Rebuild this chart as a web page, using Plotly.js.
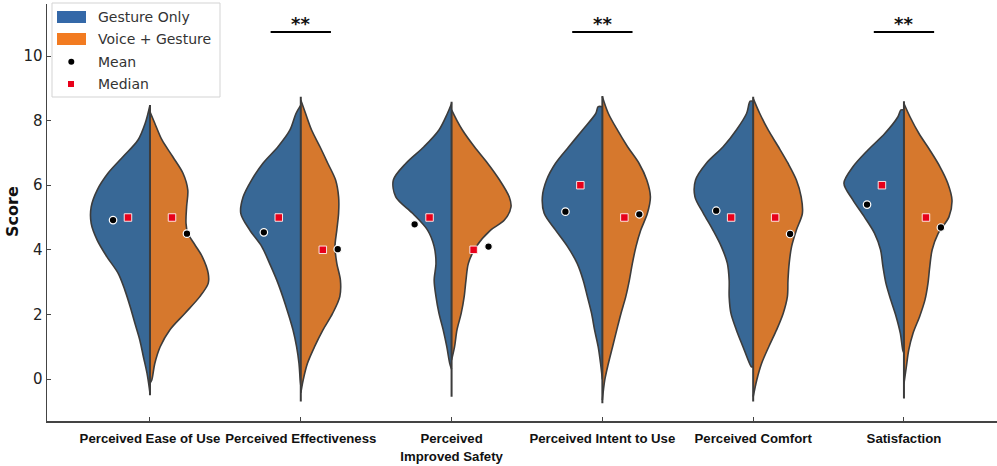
<!DOCTYPE html>
<html><head><meta charset="utf-8">
<script src="https://cdn.plot.ly/plotly-3.0.1.min.js"></script>
<style>html,body{margin:0;padding:0;background:#fff}#chart{width:997px;height:466px}</style>
</head><body><div id="chart"></div>
<script>
// ---- data ----
const categories = ["Perceived Ease of Use","Perceived Effectiveness","Perceived<br>Improved Safety","Perceived Intent to Use","Perceived Comfort","Satisfaction"];
const groups = ["Gesture Only","Voice + Gesture"];

// density profiles (score level, relative half-width) for each half-violin
const gestureLevels = [
  [8.48,7.92,7.4,6.88,6.37,5.85,5.33,4.82,4.3,3.79,3.27,2.76,2.24,1.72,1.21,0.69,0.18,-0.3,-0.45],
  [8.48,8.22,7.71,7.19,6.68,6.16,5.64,5.13,4.61,4.1,3.58,3.06,2.55,2.03,1.52,1.0,0.48,-0.03,-0.2],
  [8.53,8.22,7.71,7.19,6.68,6.16,5.64,5.13,4.61,4.1,3.58,3.06,2.55,2.03,1.52,1.0,0.48,0.3],
  [8.43,8.22,7.71,7.19,6.68,6.16,5.64,5.13,4.61,4.1,3.58,3.06,2.55,2.03,1.52,1.0,0.48,-0.01],
  [8.6,8.22,7.71,7.19,6.68,6.16,5.64,5.13,4.61,4.1,3.58,3.06,2.55,2.03,1.52,1.0,0.48,0.38],
  [8.33,8.12,7.6,7.09,6.57,6.06,5.54,5.02,4.51,4.0,3.48,2.96,2.45,1.93,1.41,0.9,0.8]
];
const gestureDensity = [
  [0,0.08,0.2,0.45,0.7,0.88,0.98,0.98,0.88,0.72,0.53,0.42,0.33,0.25,0.17,0.11,0.05,0.01,0],
  [0,0.08,0.18,0.38,0.63,0.82,0.96,1.0,0.85,0.65,0.52,0.4,0.3,0.21,0.13,0.07,0.03,0.01,0],
  [0,0.07,0.21,0.46,0.76,0.97,0.93,0.65,0.4,0.29,0.26,0.29,0.26,0.21,0.14,0.08,0.03,0],
  [0.07,0.11,0.33,0.56,0.78,0.93,1.0,0.97,0.78,0.58,0.42,0.32,0.25,0.18,0.13,0.07,0.03,0],
  [0.05,0.11,0.28,0.5,0.78,0.96,0.97,0.83,0.67,0.53,0.43,0.4,0.4,0.37,0.28,0.17,0.06,0.03],
  [0.05,0.1,0.32,0.6,0.85,1.0,0.85,0.66,0.49,0.39,0.35,0.3,0.22,0.13,0.06,0.02,0]
];
const voiceLevels = [
  [8.27,7.92,7.4,6.88,6.37,5.85,5.33,4.82,4.51,4.15,3.79,3.27,2.96,2.55,2.03,1.52,1.0,0.48,-0.03,-0.13],
  [8.64,8.22,7.71,7.19,6.68,6.16,5.64,5.13,4.61,4.1,3.58,3.06,2.55,2.03,1.52,1.0,0.48,-0.03,-0.43],
  [8.33,8.0,7.71,7.19,6.68,6.16,5.64,5.33,4.92,4.61,4.1,3.58,3.06,2.55,2.03,1.52,1.0,0.59],
  [8.74,8.22,7.71,7.19,6.68,6.16,5.64,5.13,4.61,4.1,3.58,3.06,2.55,2.03,1.52,1.0,0.48,-0.03,-0.65],
  [8.69,8.22,7.71,7.19,6.68,6.16,5.64,5.13,4.61,4.1,3.58,3.06,2.55,2.03,1.52,1.0,0.48,-0.03,-0.55],
  [8.53,8.12,7.6,7.09,6.57,6.06,5.54,5.02,4.51,4.0,3.48,2.96,2.45,1.93,1.41,0.9,0.38,-0.14]
];
const voiceDensity = [
  [0,0.08,0.2,0.38,0.55,0.63,0.61,0.6,0.63,0.75,0.87,0.97,0.97,0.83,0.58,0.33,0.17,0.08,0.03,0],
  [0,0.08,0.18,0.32,0.45,0.58,0.63,0.63,0.6,0.57,0.6,0.66,0.65,0.53,0.37,0.23,0.11,0.04,0],
  [0,0.09,0.18,0.38,0.6,0.8,0.96,0.99,0.88,0.65,0.41,0.28,0.24,0.21,0.16,0.09,0.05,0],
  [0,0.1,0.25,0.42,0.61,0.74,0.8,0.75,0.64,0.56,0.5,0.45,0.39,0.31,0.24,0.17,0.1,0.04,0],
  [0,0.11,0.25,0.42,0.58,0.72,0.8,0.82,0.72,0.64,0.6,0.58,0.57,0.5,0.39,0.26,0.14,0.06,0],
  [0,0.1,0.25,0.43,0.6,0.73,0.8,0.75,0.57,0.47,0.43,0.4,0.35,0.26,0.15,0.08,0.04,0]
];
// full extent of the shared centre line (min, max)
const lineMin = [-0.5,-0.7,-0.55,-0.75,-0.7,-0.6];
const lineMax = [8.48,8.74,8.58,8.76,8.74,8.6];

const gestureMean   = [4.92,4.54,4.79,5.18,5.21,5.4];
const gestureMedian = [5,5,5,6,5,6];
const voiceMean     = [4.5,4.02,4.1,5.1,4.49,4.69];
const voiceMedian   = [5,4,4,5,5,5];

const sigCategories = [1,3,5];
const sigLabel = "**";

const yTicks = [0,2,4,6,8,10];

// ---- styling ----
const BLUE = "#386896", ORANGE = "#d6782d";
const LEG_BLUE = "#3468a8", LEG_ORANGE = "#f27b21";
const EDGE = "#3c3c3c", RED = "#e8001a";
const HALF = 0.398;           // max half width in category units
const MEAN_OFF = 0.245, MED_OFF = 0.146;

const traces = [];
function half(i, lv, dn, sign, color){
  const xs = [], ys = [];
  if (dn[0] > 0){ xs.push(i); ys.push(lv[0]); }
  for (let k=0;k<lv.length;k++){ xs.push(i + sign*dn[k]*HALF); ys.push(lv[k]); }
  if (dn[dn.length-1] > 0){ xs.push(i); ys.push(lv[lv.length-1]); }
  traces.push({type:"scatter", mode:"lines", x:xs, y:ys, fill:"toself", fillcolor:color,
    line:{color:EDGE, width:1.6, shape:"spline", smoothing:0.9}, hoverinfo:"skip", showlegend:false});
}
categories.forEach((c,i)=>{
  half(i, gestureLevels[i], gestureDensity[i], -1, BLUE);
  half(i, voiceLevels[i], voiceDensity[i], 1, ORANGE);
});
categories.forEach((c,i)=>{
  traces.push({type:"scatter", mode:"lines", x:[i,i], y:[lineMin[i], lineMax[i]],
    line:{color:EDGE, width:2}, hoverinfo:"skip", showlegend:false});
});
const idx = categories.map((c,i)=>i);
traces.push({type:"scatter", mode:"markers", x:idx.map(i=>i-MED_OFF), y:gestureMedian,
  marker:{symbol:"square", size:7.5, color:RED, line:{color:"rgba(255,235,235,0.95)", width:1}}, showlegend:false});
traces.push({type:"scatter", mode:"markers", x:idx.map(i=>i+MED_OFF), y:voiceMedian,
  marker:{symbol:"square", size:7.5, color:RED, line:{color:"rgba(255,235,235,0.95)", width:1}}, showlegend:false});
traces.push({type:"scatter", mode:"markers", x:idx.map(i=>i-MEAN_OFF), y:gestureMean,
  marker:{symbol:"circle", size:7.5, color:"#000", line:{color:"#fff", width:1.2}}, showlegend:false});
traces.push({type:"scatter", mode:"markers", x:idx.map(i=>i+MEAN_OFF), y:voiceMean,
  marker:{symbol:"circle", size:7.5, color:"#000", line:{color:"#fff", width:1.2}}, showlegend:false});

// pixel -> paper helpers for the hand-drawn legend
const L=47, T=4, W=950, H=417;
const px = x => (x-L)/W, py = y => (T+H-y)/H;

const shapes = [];
const annotations = [];
sigCategories.forEach(i=>{
  shapes.push({type:"line", xref:"x", yref:"y", x0:i-0.2, x1:i+0.2, y0:10.74, y1:10.74, line:{color:"#000", width:2}});
  annotations.push({xref:"x", yref:"y", x:i, y:11.02, text:sigLabel, showarrow:false,
    font:{family:"DejaVu Sans", size:18, color:"#111", weight:"bold"}, xanchor:"center", yanchor:"middle"});
});
// legend box
shapes.push({type:"rect", xref:"paper", yref:"paper", x0:px(52), x1:px(220), y0:py(97), y1:py(3),
  line:{color:"#d3d3d3", width:1}, fillcolor:"rgba(255,255,255,0.85)", layer:"above"});
shapes.push({type:"rect", xref:"paper", yref:"paper", x0:px(57), x1:px(86), y0:py(23), y1:py(11),
  line:{width:0}, fillcolor:LEG_BLUE, layer:"above"});
shapes.push({type:"rect", xref:"paper", yref:"paper", x0:px(57), x1:px(86), y0:py(45), y1:py(33),
  line:{width:0}, fillcolor:LEG_ORANGE, layer:"above"});
shapes.push({type:"circle", xref:"paper", yref:"paper", x0:px(68.3), x1:px(74.3), y0:py(64.7), y1:py(58.7),
  line:{width:0}, fillcolor:"#000", layer:"above"});
shapes.push({type:"rect", xref:"paper", yref:"paper", x0:px(68), x1:px(74), y0:py(87), y1:py(81),
  line:{width:0}, fillcolor:RED, layer:"above"});
const legTexts = [groups[0], groups[1], "Mean", "Median"];
const legY = [17, 39, 62, 84];
legTexts.forEach((t,k)=>{
  annotations.push({xref:"paper", yref:"paper", x:px(96), y:py(legY[k]), text:t, showarrow:false,
    xanchor:"left", yanchor:"middle", font:{family:"DejaVu Sans", size:14, color:"#333"}});
});
// y-axis title
annotations.push({xref:"paper", yref:"paper", x:px(12), y:py(212), text:"Score", textangle:-90, showarrow:false,
  xanchor:"center", yanchor:"middle", font:{family:"DejaVu Sans", size:16, color:"#111", weight:"bold"}});

const layout = {
  width:997, height:466,
  margin:{l:L, r:0, t:T, b:466-T-H},
  paper_bgcolor:"#fff", plot_bgcolor:"#fff",
  showlegend:false,
  xaxis:{range:[-0.683,5.617], tickmode:"array", tickvals:idx, ticktext:categories,
    ticks:"inside", ticklen:4, tickwidth:1, tickcolor:"#444", ticklabelstandoff:5, tickangle:0,
    showline:true, linecolor:"#444", linewidth:1.5, showgrid:false, zeroline:false,
    tickfont:{family:"Liberation Sans, Arial", size:13.2, color:"#111", weight:"bold"}},
  yaxis:{range:[-1.3,11.61], tickmode:"array", tickvals:yTicks,
    ticks:"inside", ticklen:4, tickwidth:1, tickcolor:"#444",
    showline:true, linecolor:"#444", linewidth:1.5, showgrid:false, zeroline:false,
    tickfont:{family:"DejaVu Sans", size:15, color:"#222"}},
  shapes:shapes, annotations:annotations
};
Plotly.newPlot("chart", traces, layout, {staticPlot:true, displayModeBar:false});
</script></body></html>
